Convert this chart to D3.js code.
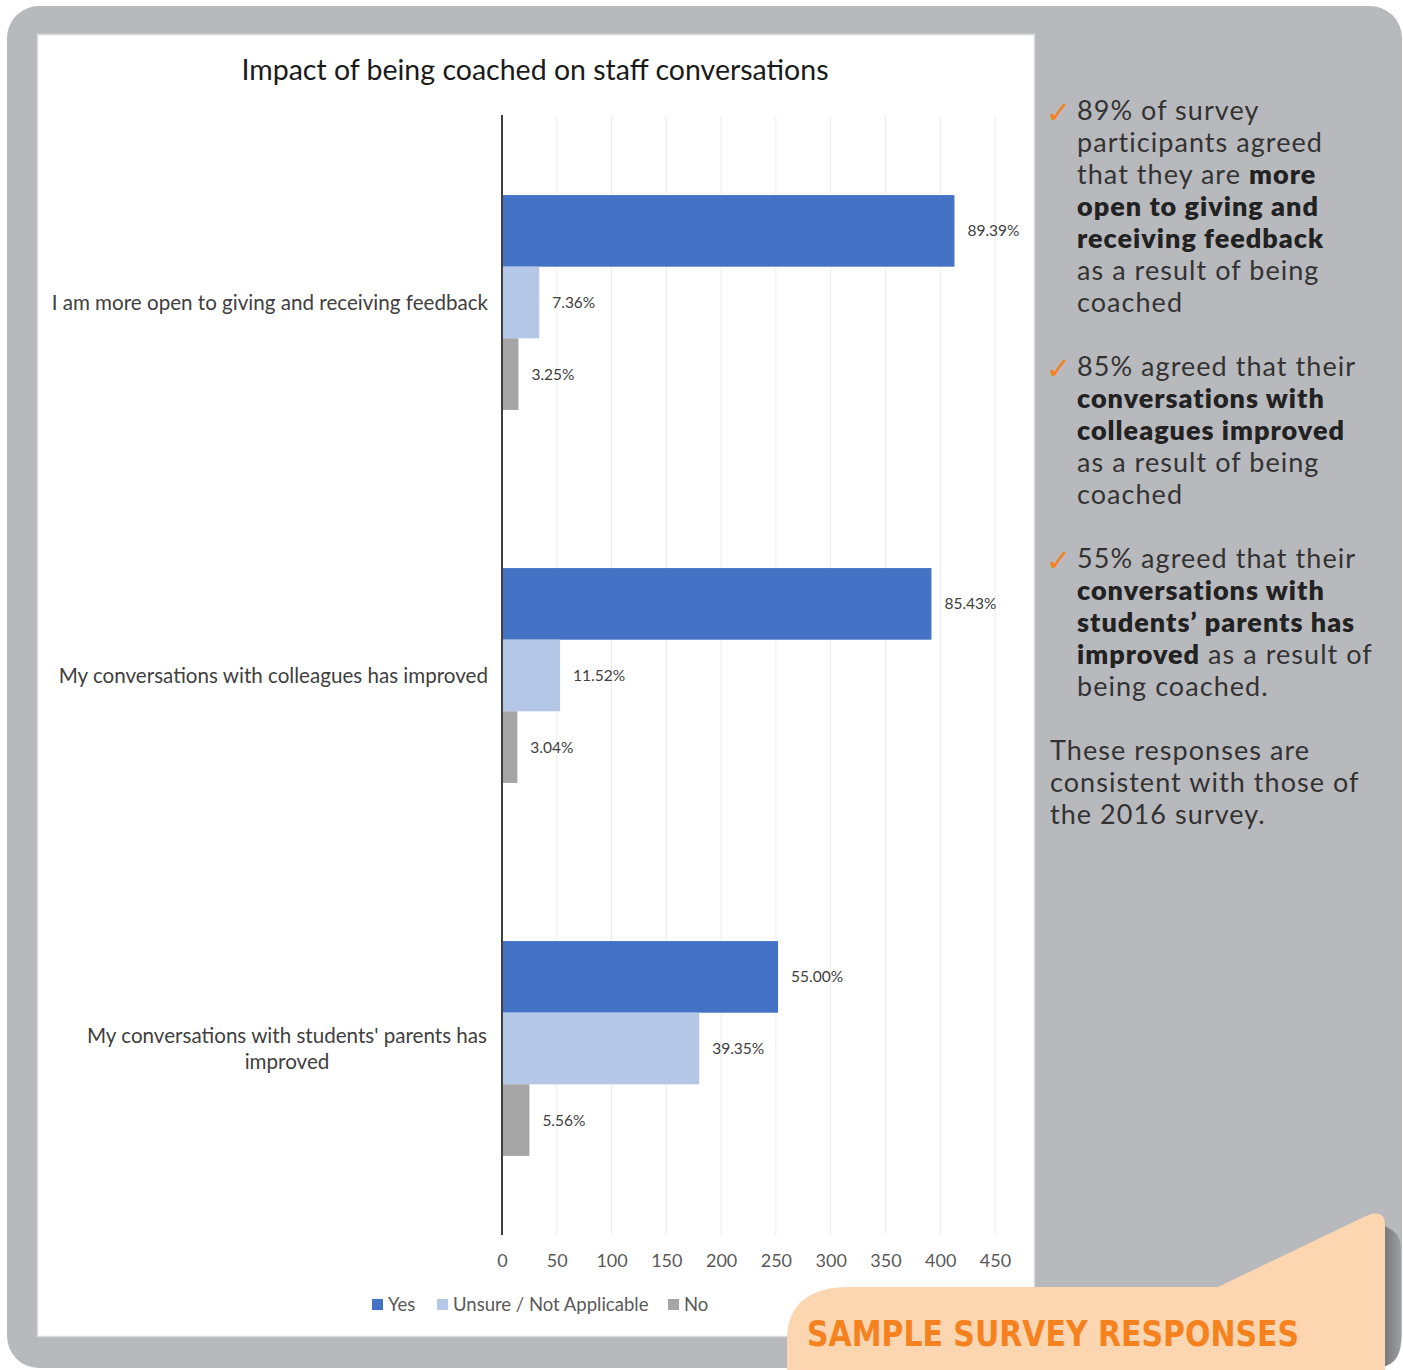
<!DOCTYPE html>
<html><head><meta charset="utf-8">
<script src="https://cdn.jsdelivr.net/npm/d3@7"></script>
<style>body{margin:0;background:#fff;} svg{display:block;}</style>
</head><body>
<svg id="c" width="1403" height="1370"></svg>
<script>
const categories = [
  "I am more open to giving and receiving feedback",
  "My conversations with colleagues has improved",
  "My conversations with students' parents has improved"
];
const seriesNames = ["Yes", "Unsure / Not Applicable", "No"];
const yesCounts = [413, 392, 252];
const unsureCounts = [34, 53, 180];
const noCounts = [15, 14, 25];
const yesPct = ["89.39%", "85.43%", "55.00%"];
const unsurePct = ["7.36%", "11.52%", "39.35%"];
const noPct = ["3.25%", "3.04%", "5.56%"];
const xTicks = [0, 50, 100, 150, 200, 250, 300, 350, 400, 450];
const colors = ["#4472c4", "#b4c7e7", "#a5a5a5"];

const svg = d3.select("#c");
const F = "Lato, 'Open Sans', sans-serif";
// card background
svg.append("rect").attr("x",7).attr("y",6).attr("width",1395).attr("height",1362).attr("rx",32).attr("fill","#b8b9bd");
// white chart panel
svg.append("rect").attr("x",37.5).attr("y",34.5).attr("width",997).attr("height",1302).attr("fill","#fff").attr("stroke","#d9d9d9").attr("stroke-width",1.5);

const x = d3.scaleLinear().domain([0,450]).range([502,995]);
const y0 = d3.scaleBand().domain(categories).range([116,1235]).paddingInner(0.424).paddingOuter(0.212);
const y1 = d3.scaleBand().domain(seriesNames).range([0,y0.bandwidth()]);

// gridlines
svg.append("g").selectAll("line").data(xTicks.slice(1)).join("line")
  .attr("x1",d=>x(d)).attr("x2",d=>x(d)).attr("y1",116).attr("y2",1235)
  .attr("stroke","#ececec").attr("stroke-width",1);

// title
svg.append("text").attr("x",535).attr("y",80).attr("text-anchor","middle")
  .attr("font-family",F).attr("font-size",28.5).attr("fill","#1a1a1a")
  .text("Impact of being coached on staff conversations");

const series = [
  {name:seriesNames[0], vals:yesCounts, labels:yesPct, color:colors[0]},
  {name:seriesNames[1], vals:unsureCounts, labels:unsurePct, color:colors[1]},
  {name:seriesNames[2], vals:noCounts, labels:noPct, color:colors[2]}
];

const g = svg.append("g");
series.forEach(s=>{
  categories.forEach((c,i)=>{
    const yy = y0(c)+y1(s.name);
    g.append("rect").attr("x",x(0)).attr("y",yy).attr("width",x(s.vals[i])-x(0)).attr("height",y1.bandwidth()).attr("fill",s.color);
    g.append("text").attr("x",x(s.vals[i])+13).attr("y",yy+y1.bandwidth()/2).attr("dy","0.35em")
      .attr("font-family",F).attr("font-size",15.5).attr("fill","#404040")
      .text(s.labels[i]);
  });
});

// axis line
svg.append("line").attr("x1",x(0)).attr("x2",x(0)).attr("y1",115).attr("y2",1235).attr("stroke","#404040").attr("stroke-width",2);

// x tick labels via axis
const xAxis = svg.append("g").attr("transform","translate(0,1254)")
  .call(d3.axisBottom(x).tickValues(xTicks).tickSize(0).tickPadding(0));
xAxis.select(".domain").remove();
xAxis.selectAll("text").attr("font-family",F).attr("font-size",18).attr("fill","#595959").attr("dy","0.7em");

// category labels
categories.forEach((c,i)=>{
  const cy = y0(c)+y0.bandwidth()/2;
  if(i<2){
    svg.append("text").attr("x",488).attr("y",cy).attr("dy","0.35em").attr("text-anchor","end")
      .attr("font-family",F).attr("font-size",20.6).attr("fill","#404040").text(c);
  } else {
    const t = svg.append("text").attr("text-anchor","middle").attr("font-family",F).attr("font-size",20.6).attr("fill","#404040");
    t.append("tspan").attr("x",287).attr("y",cy-13).attr("dy","0.35em").text("My conversations with students' parents has");
    t.append("tspan").attr("x",287).attr("y",cy+13).attr("dy","0.35em").text("improved");
  }
});

// legend
const legX = [372, 437, 668];
series.forEach((s,i)=>{
  svg.append("rect").attr("x",legX[i]).attr("y",1299).attr("width",11).attr("height",11).attr("fill",s.color);
  svg.append("text").attr("x",legX[i]+16).attr("y",1304.5).attr("dy","0.35em")
    .attr("font-family",F).attr("font-size",18.5).attr("fill","#595959").text(s.name);
});

// right text column
const blocks = [
  {check:true, x:1077, y:111, lines:[
    [["89% of survey",0]],
    [["participants agreed",0]],
    [["that they are ",0],["more",1]],
    [["open to giving and",1]],
    [["receiving feedback",1]],
    [["as a result of being",0]],
    [["coached",0]]]},
  {check:true, x:1077, y:367, lines:[
    [["85% agreed that their",0]],
    [["conversations with",1]],
    [["colleagues improved",1]],
    [["as a result of being",0]],
    [["coached",0]]]},
  {check:true, x:1077, y:559, lines:[
    [["55% agreed that their",0]],
    [["conversations with",1]],
    [["students\u2019 parents has",1]],
    [["improved",1],[" as a result of",0]],
    [["being coached.",0]]]},
  {check:false, x:1050, y:751, lines:[
    [["These responses are",0]],
    [["consistent with those of",0]],
    [["the 2016 survey.",0]]]}
];
blocks.forEach(b=>{
  if(b.check){
    svg.append("text").attr("x",b.x-31).attr("y",b.y+1).attr("dy","0.35em").attr("font-family","'DejaVu Sans', sans-serif")
      .attr("font-size",30).attr("fill","#f5821f").text("\u2713");
  }
  b.lines.forEach((ln,li)=>{
    const t = svg.append("text").attr("x",b.x).attr("y",b.y+li*32).attr("dy","0.35em")
      .attr("font-family",F).attr("font-size",27).attr("fill","#2d2d2d").attr("xml:space","preserve");
    ln.forEach(([txt,bold])=>{
      t.append("tspan").attr("font-weight",bold?800:400).attr("letter-spacing",bold?1.0:1.05).attr("fill",bold?"#222":"#333").text(txt);
    });
  });
});

// peach tab shadow
const defs = svg.append("defs");
const grad = defs.append("linearGradient").attr("id","sh").attr("x1","0").attr("x2","1");
grad.append("stop").attr("offset","0").attr("stop-color","#5f5f62");
grad.append("stop").attr("offset","1").attr("stop-color","#9d9ea2");
svg.append("path").attr("d","M1378,1222 L1392,1230 Q1401,1236 1401,1250 L1401,1340 Q1401,1368 1373,1368 L1378,1368 Z").attr("fill","url(#sh)");
// peach tab
svg.append("path")
  .attr("d","M787,1370 L787,1340 Q787,1287 850,1287 L1218,1287 L1366,1216 Q1385,1208 1385,1226 L1385,1370 Z")
  .attr("fill","#fcd5b1");
svg.append("text").attr("x",807).attr("y",1346).attr("font-family","'DejaVu Sans Condensed', 'DejaVu Sans', sans-serif")
  .attr("font-weight","bold").attr("font-size",36).attr("fill","#f5821f").attr("textLength",492).attr("lengthAdjust","spacingAndGlyphs")
  .text("SAMPLE SURVEY RESPONSES");
</script>
</body></html>
